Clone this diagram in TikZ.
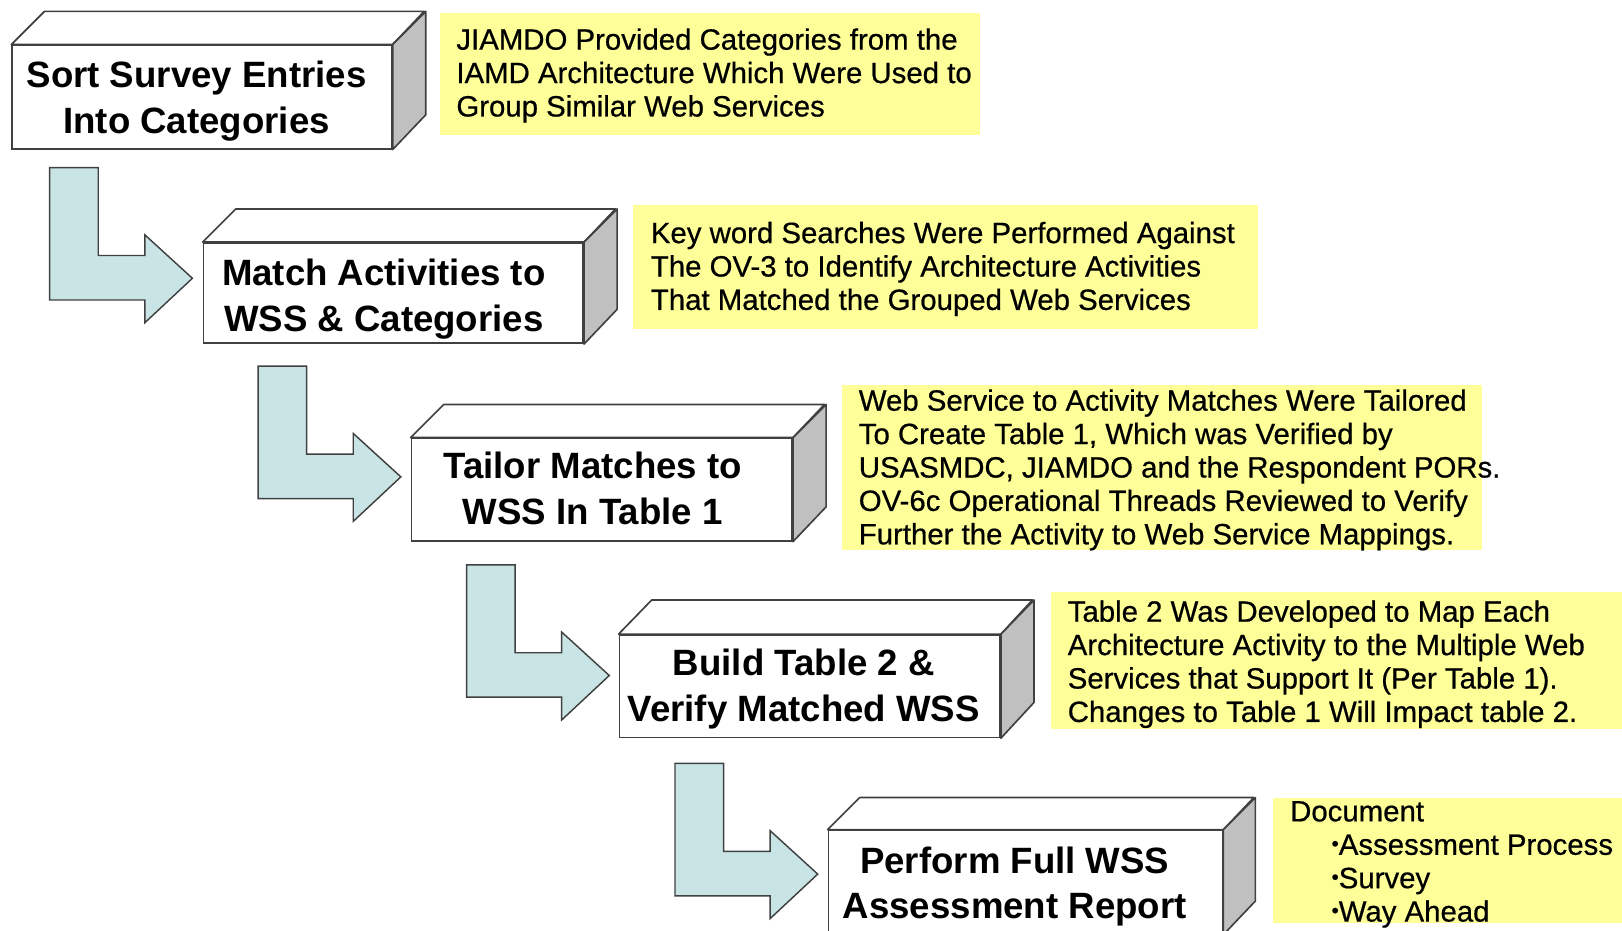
\documentclass[tikz,border=0pt]{standalone}
\usepackage{fontspec}
\setmainfont{Liberation Sans}
\newfontfamily\notefont[FakeBold=0.6]{Liberation Sans}
\definecolor{arrowfill}{RGB}{200,228,229}
\definecolor{notefill}{RGB}{255,255,153}
\definecolor{sidegray}{RGB}{192,192,192}
\definecolor{edgegray}{RGB}{64,64,64}
\newcommand{\smallbul}{{\fontsize{20}{20}\selectfont\raisebox{4pt}{\textbullet}}}
\begin{document}
\begin{tikzpicture}[x=1pt,y=-1pt,
  frontface/.style={draw=edgegray, line width=1.6pt, fill=white, anchor=north west,
     inner sep=0pt, minimum height=100pt},
  facetop/.style={draw=edgegray, line width=1.6pt, fill=white, line join=round},
  faceside/.style={draw=edgegray, line width=1.6pt, fill=sidegray, line join=round},
  boxtext/.style={anchor=base, inner sep=0pt, font=\fontsize{35.4}{44}\selectfont\bfseries},
  notebox/.style={fill=notefill, anchor=north west, inner sep=0pt},
  notetext/.style={anchor=base west, inner sep=0pt, font=\notefont\fontsize{28.4}{32.3}\selectfont},
  fatarrow/.style={draw=edgegray, line width=1.4pt, fill=arrowfill, line join=miter}
]
\useasboundingbox (0,0) rectangle (1568,900);
\clip (0,0) rectangle (1568,900);

% ---------- yellow notes ----------
\node[notebox, minimum width=522pt, minimum height=118pt] (n1) at (425,12) {};
\node[notetext] (t1) at (441,48) {\parbox[t]{600pt}{\raggedright
  JIAMDO Provided Categories from the\\
  IAMD Architecture Which Were Used to\\
  Group Similar Web Services}};

\node[notebox, minimum width=604pt, minimum height=120pt] (n2) at (612,198) {};
\node[notetext] (t2) at (629,235) {\parbox[t]{650pt}{\raggedright
  Key word Searches Were Performed Against\\
  The OV-3 to Identify Architecture Activities\\
  That Matched the Grouped Web Services}};

\node[notebox, minimum width=618pt, minimum height=159pt] (n3) at (814,372) {};
\node[notetext] (t3) at (830,397) {\parbox[t]{650pt}{\raggedright
  Web Service to Activity Matches Were Tailored\\
  To Create Table 1, Which was Verified by\\
  USASMDC, JIAMDO and the Respondent PORs.\\
  OV-6c Operational Threads Reviewed to Verify\\
  Further the Activity to Web Service Mappings.}};

\node[notebox, minimum width=560pt, minimum height=133pt] (n4) at (1016,572) {};
\node[notetext] (t4) at (1032,601) {\parbox[t]{600pt}{\raggedright
  Table 2 Was Developed to Map Each\\
  Architecture Activity to the Multiple Web\\
  Services that Support It (Per Table 1).\\
  Changes to Table 1 Will Impact table 2.}};

\node[notebox, minimum width=350pt, minimum height=121pt] (n5) at (1230,771) {};
\node[notetext] (t5) at (1247,794) {\parbox[t]{400pt}{\raggedright
  Document\\
  \hspace*{40pt}\smallbul Assessment Process\\
  \hspace*{40pt}\smallbul Survey\\
  \hspace*{40pt}\smallbul Way Ahead}};

% ---------- 3D boxes ----------
% box 1
\node[frontface, minimum width=367pt] (b1) at (11,43) {};
\draw[facetop] (b1.north west) -- ++(32,-32) -- ++(367,0) -- (b1.north east) -- cycle;
\draw[faceside] (b1.north east) -- ++(32,-32) -- ++(0,100) -- (b1.south east) -- cycle;
\node[boxtext] (l1) at (190,85) {\parbox[t]{440pt}{\centering Sort Survey Entries\\Into Categories}};

% box 2
\node[frontface, minimum width=367pt, minimum height=97pt] (b2) at (196,234) {};
\draw[facetop] (b2.north west) -- ++(32,-32) -- ++(367,0) -- (b2.north east) -- cycle;
\draw[faceside] (b2.north east) -- ++(32,-32) -- ++(0,97) -- (b2.south east) -- cycle;
\node[boxtext] (l2) at (371,276) {\parbox[t]{440pt}{\centering Match Activities to\\WSS \& Categories}};

% box 3
\node[frontface, minimum width=368pt, minimum height=99pt] (b3) at (397,423) {};
\draw[facetop] (b3.north west) -- ++(32,-32) -- ++(368,0) -- (b3.north east) -- cycle;
\draw[faceside] (b3.north east) -- ++(32,-32) -- ++(0,99) -- (b3.south east) -- cycle;
\node[boxtext] (l3) at (573,463) {\parbox[t]{440pt}{\centering Tailor Matches to\\WSS In Table 1}};

% box 4
\node[frontface, minimum width=368pt, minimum height=99pt] (b4) at (598,613) {};
\draw[facetop] (b4.north west) -- ++(32,-33) -- ++(368,0) -- (b4.north east) -- cycle;
\draw[faceside] (b4.north east) -- ++(32,-33) -- ++(0,99) -- (b4.south east) -- cycle;
\node[boxtext] (l4) at (777,653) {\parbox[t]{440pt}{\centering Build Table 2 \&\\Verify Matched WSS}};

% box 5
\node[frontface, minimum width=381pt] (b5) at (800,802) {};
\draw[facetop] (b5.north west) -- ++(31,-31) -- ++(381,0) -- (b5.north east) -- cycle;
\draw[faceside] (b5.north east) -- ++(31,-31) -- ++(0,100) -- (b5.south east) -- cycle;
\node[boxtext] (l5) at (981,844) {\parbox[t]{440pt}{\centering Perform Full WSS\\Assessment Report}};

% ---------- L-shaped arrows ----------
\foreach \i/\X/\T in {1/48/162, 2/249.5/354, 3/451/546, 4/652.5/738}{
  \draw[fatarrow] (\X,\T) coordinate (a\i)
     -- ++(47,0) -- ++(0,85) -- ++(45,0) -- ++(0,-20)
     -- ++(46,42) -- ++(-46,43) -- ++(0,-22) -- ++(-92,0) -- cycle;
}
\end{tikzpicture}
\end{document}
